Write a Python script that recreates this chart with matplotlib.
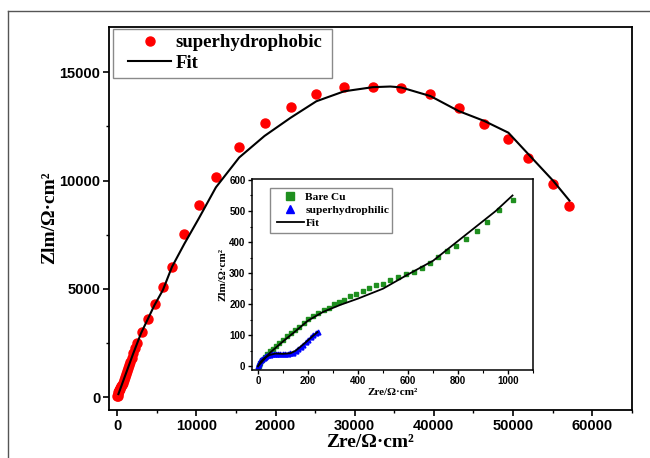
import matplotlib
matplotlib.use("Agg")
import matplotlib.pyplot as plt
from matplotlib.lines import Line2D
from matplotlib.patches import Rectangle
from matplotlib.ticker import MultipleLocator

# main plot: superhydrophobic sample
phob_x = [30, 60, 100, 150, 210, 270, 330, 400, 480, 570, 680, 820, 960, 1080, 1220,
          1370, 1520, 1670, 1850, 2050, 2300, 2550, 3100, 3890, 4730, 5780, 6970,
          8490, 10270, 12470, 15410, 18610, 21910, 25160, 28670, 32290, 35850,
          39570, 43130, 46380, 49420, 51940, 55080, 57130]
phob_y = [40, 78, 150, 230, 290, 350, 390, 450, 520, 590, 680, 810, 940, 1070, 1200,
          1350, 1500, 1650, 1830, 2040, 2270, 2500, 3000, 3600, 4300, 5095, 6000,
          7545, 8877, 10178, 11555, 12640, 13390, 13975, 14340, 14325, 14280,
          13975, 13360, 12600, 11905, 11065, 9840, 8850]
fit_x = [150, 1000, 2000, 3000, 4700, 5770, 6920, 8490, 10270, 12470, 15410, 18610,
         21910, 25160, 28670, 32290, 34500, 35850, 39570, 43130, 46380, 49420,
         51940, 55080, 57130]
fit_y = [150, 1000, 2000, 2950, 4250, 4950, 6020, 7090, 8230, 9690, 11065, 12060,
         12900, 13660, 14120, 14310, 14340, 14300, 13900, 13210, 12750, 12210,
         11220, 9990, 9080]

# inset: bare Cu and superhydrophilic
cu_x = [3, 9, 17, 27, 36, 47, 59, 72, 86, 100, 116, 132, 146, 165, 182, 201, 221,
        239, 262, 282, 302, 322, 343, 368, 392, 419, 444, 471, 499, 528, 560, 590,
        622, 654, 686, 721, 754, 793, 832, 874, 916, 964, 1017]
cu_y = [2, 11, 20, 30, 39, 48, 56, 66, 74, 85, 96, 106, 117, 128, 138, 151, 162,
        170, 181, 189, 199, 207, 215, 226, 234, 243, 252, 261, 266, 277, 287, 296,
        305, 317, 333, 351, 370, 388, 410, 436, 465, 502, 534]
cu_fit_x = [0, 50, 100, 150, 200, 260, 330, 400, 500, 600, 650, 700, 750, 800, 850,
            900, 950, 1017]
cu_fit_y = [0, 45, 80, 113, 147, 175, 198, 218, 250, 296, 318, 340, 372, 404, 436,
            468, 500, 550]
phil_x = [0, 3, 6, 10, 14, 18, 23, 28, 34, 40, 47, 55, 63, 72, 81, 90, 100, 110,
          120, 130, 140, 150, 160, 170, 180, 190, 200, 210, 220, 230, 238]
phil_y = [0, 6, 11, 16, 20, 24, 27, 30, 33, 35, 37, 39, 40, 41, 41, 41, 41, 41, 41,
          42, 44, 49, 55, 62, 70, 78, 86, 94, 101, 107, 111]
phil_fit_x = [0, 10, 25, 45, 70, 100, 130, 150, 170, 195, 220, 238]
phil_fit_y = [0, 14, 26, 36, 41, 40, 42, 50, 63, 80, 98, 110]

serif = "Liberation Serif"
sans = "Liberation Sans"
W, H = 650, 458


def fbox(x0, y0, x1, y1):
    # pixel box (top-left origin) -> figure rectangle
    return Rectangle((x0 / W, 1 - y1 / H), (x1 - x0) / W, (y1 - y0) / H,
                     transform=fig.transFigure, fill=False, ec="#8a8a8a", lw=1.0, zorder=5)


fig = plt.figure(figsize=(6.5, 4.58), dpi=100)
fig.add_artist(Line2D([8.3 / W, 8.3 / W], [0, 1 - 10.7 / H], color="#555555", lw=1))
fig.add_artist(Line2D([8.3 / W, 1], [1 - 10.7 / H] * 2, color="#555555", lw=1))

ax = fig.add_axes([109.3 / W, 48.5 / H, 522.4 / W, 382.8 / H])
ax.plot(phob_x, phob_y, "o", color="red", ms=6.5, mec="red", label="superhydrophobic")
ax.plot(fit_x, fit_y, "-", color="black", lw=1.5, label="Fit")
ax.set_xlim(-1000, 65000)
ax.set_ylim(-560, 17100)
ax.xaxis.set_major_locator(MultipleLocator(10000))
ax.xaxis.set_minor_locator(MultipleLocator(5000))
ax.yaxis.set_major_locator(MultipleLocator(5000))
ax.yaxis.set_minor_locator(MultipleLocator(2500))
ax.tick_params(which="major", length=4.5, width=1.2, direction="out", pad=2)
ax.tick_params(which="minor", length=2.5, width=1.0, direction="out")
for lab in ax.get_xticklabels() + ax.get_yticklabels():
    lab.set_fontfamily(sans)
    lab.set_fontweight("bold")
    lab.set_fontsize(10.5)
for s in ax.spines.values():
    s.set_linewidth(1.3)
ax.set_xlabel("Zre/Ω·cm²", family=serif, weight="bold", fontsize=14, labelpad=1)
ax.set_ylabel("Zlm/Ω·cm²", family=serif, weight="bold", fontsize=14, labelpad=1)
ax.legend(loc="upper left", bbox_to_anchor=(128 / W, 1 - 34 / H),
          bbox_transform=fig.transFigure, borderaxespad=0, borderpad=0,
          prop={"family": serif, "weight": "bold", "size": 13.5},
          frameon=False, handlelength=2.3, handletextpad=0.25, labelspacing=0.2)
fig.add_artist(fbox(113, 29, 332, 78))

# inset
ins = fig.add_axes([251.7 / W, 88 / H, 281.6 / W, 191 / H])
ins.plot(cu_x, cu_y, "s", color="#1f8f1f", ms=3.5, label="Bare Cu")
ins.plot(phil_x, phil_y, "^", color="blue", ms=3.5, label="superhydrophilic")
ins.plot(cu_fit_x, cu_fit_y, "-", color="black", lw=1.3, label="Fit")
ins.plot(phil_fit_x, phil_fit_y, "-", color="black", lw=1.3)
ins.set_xlim(-25, 1100)
ins.set_ylim(-12, 603)
ins.xaxis.set_major_locator(MultipleLocator(200))
ins.xaxis.set_minor_locator(MultipleLocator(100))
ins.yaxis.set_major_locator(MultipleLocator(100))
ins.yaxis.set_minor_locator(MultipleLocator(50))
ins.tick_params(which="major", length=3, width=1.0, direction="out", pad=1.5)
ins.tick_params(which="minor", length=1.8, width=0.8, direction="out")
for lab in ins.get_xticklabels() + ins.get_yticklabels():
    lab.set_fontfamily(sans)
    lab.set_fontweight("bold")
    lab.set_fontsize(7)
for s in ins.spines.values():
    s.set_linewidth(1.1)
ins.set_xlabel("Zre/Ω·cm²", family=serif, weight="bold", fontsize=8, labelpad=1)
ins.set_ylabel("Zlm/Ω·cm²", family=serif, weight="bold", fontsize=8, labelpad=1)
ins.legend(loc="upper left", bbox_to_anchor=(277 / W, 1 - 192 / H),
           bbox_transform=fig.transFigure, borderaxespad=0, borderpad=0,
           prop={"family": serif, "weight": "bold", "size": 8.2},
           frameon=False, handlelength=2.35, handletextpad=0.15,
           labelspacing=0.25, markerscale=1.6)
fig.add_artist(fbox(270, 188.3, 392.3, 232.7))

fig.savefig("out.png", dpi=100)
